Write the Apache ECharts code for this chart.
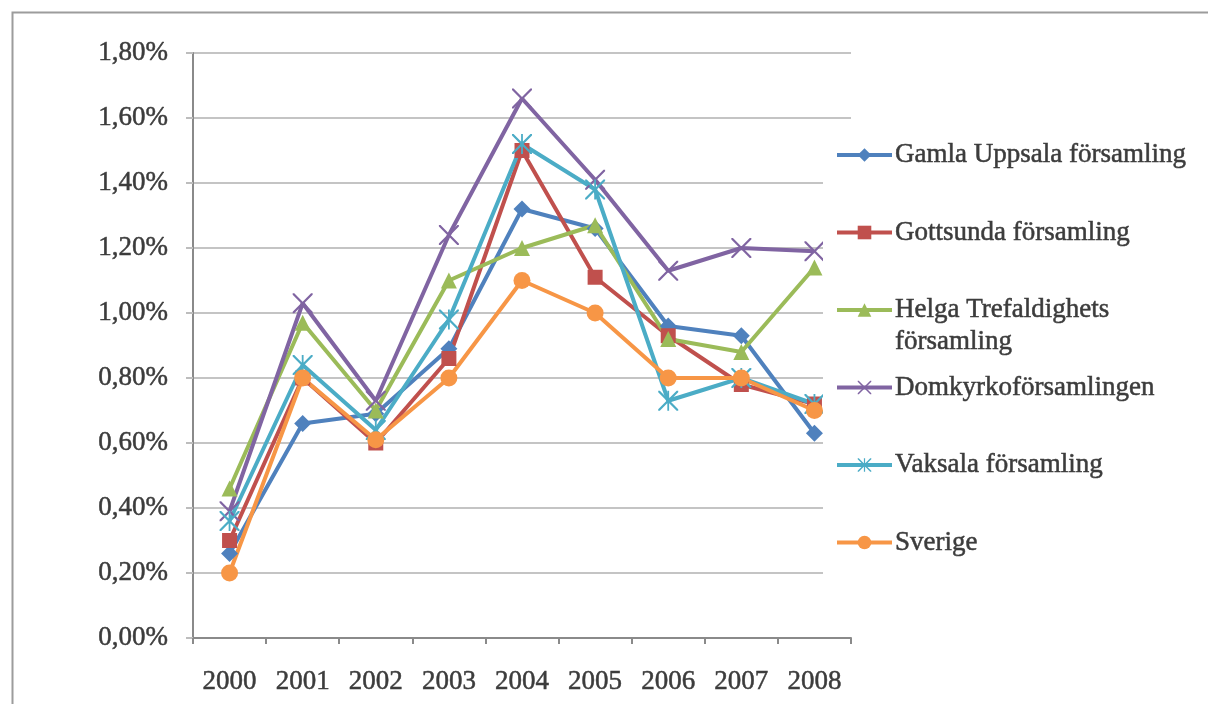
<!DOCTYPE html>
<html>
<head>
<meta charset="utf-8">
<script src="https://cdn.jsdelivr.net/npm/echarts@6/dist/echarts.min.js"></script>
<style>
	html, body { margin: 0; padding: 0; background: #fff; }
	#chart { width: 1208px; height: 704px; }
</style>
</head>
<body>
<div id="chart"></div>
<script>
	// years on the x axis
	var years = ['2000', '2001', '2002', '2003', '2004', '2005', '2006', '2007', '2008'];

	// percent values per parish
	var gamlaUppsala = [0.26, 0.66, 0.69, 0.89, 1.32, 1.26, 0.96, 0.93, 0.63];
	var gottsunda = [0.30, 0.80, 0.60, 0.86, 1.50, 1.11, 0.93, 0.78, 0.72];
	var helgaTrefaldighets = [0.46, 0.97, 0.70, 1.10, 1.20, 1.27, 0.92, 0.88, 1.14];
	var domkyrko = [0.39, 1.03, 0.73, 1.24, 1.66, 1.41, 1.13, 1.20, 1.19];
	var vaksala = [0.36, 0.84, 0.64, 0.98, 1.52, 1.38, 0.73, 0.80, 0.72];
	var sverige = [0.20, 0.80, 0.61, 0.80, 1.10, 1.00, 0.80, 0.80, 0.70];

	var names = [
		'Gamla Uppsala församling',
		'Gottsunda församling',
		'Helga Trefaldighets församling',
		'Domkyrkoförsamlingen',
		'Vaksala församling',
		'Sverige'
	];
	var values = [gamlaUppsala, gottsunda, helgaTrefaldighets, domkyrko, vaksala, sverige];
	var colors = ['#4F81BD', '#C0504D', '#9BBB59', '#8064A2', '#4BACC6', '#F79646'];

	// x and asterisk markers as filled outlines
	var xPath = 'M0,0 L1.6,0 L10,8.4 L18.4,0 L20,0 L20,1.6 L11.6,10 L20,18.4 L20,20 L18.4,20 L10,11.6 L1.6,20 L0,20 L0,18.4 L8.4,10 L0,1.6 Z';
	var starPath = xPath + ' M9.1,0 L10.9,0 L10.9,20 L9.1,20 Z';
	var symbols = ['diamond', 'rect', 'triangle', 'path://' + xPath, 'path://' + starPath, 'circle'];
	var sizes = [17, 15, 16, 20, 20, 17];

	var font = 'Liberation Serif';
	var textColor = '#3c3c3c';
	var textBase = {
		color: textColor,
		fontFamily: font,
		fontSize: 27,
		textBorderColor: textColor,
		textBorderWidth: 0.5
	};

	var series = [];
	for (var i = 0; i < names.length; i++) {
		series.push({
			name: names[i],
			type: 'line',
			data: values[i],
			symbol: symbols[i],
			symbolSize: sizes[i],
			symbolKeepAspect: true,
			showAllSymbol: true,
			lineStyle: { width: 4, color: colors[i] },
			itemStyle: { color: colors[i] },
			emphasis: { disabled: true },
			animation: false
		});
	}

	var chart = echarts.init(document.getElementById('chart'), null, { renderer: 'canvas' });
	chart.setOption({
		backgroundColor: '#fff',
		animation: false,
		color: colors,
		grid: {
			left: 193,
			top: 53,
			width: 658,
			height: 585
		},
		xAxis: {
			type: 'category',
			data: years,
			boundaryGap: true,
			axisLine: { lineStyle: { color: '#8a8a8a', width: 2 } },
			axisTick: { show: true, length: 6, lineStyle: { color: '#8a8a8a', width: 2 } },
			axisLabel: Object.assign({ margin: 30 }, textBase)
		},
		yAxis: {
			type: 'value',
			min: 0,
			max: 1.8,
			interval: 0.2,
			axisLine: { show: true, lineStyle: { color: '#8a8a8a', width: 2 } },
			axisTick: { show: true, length: 7, lineStyle: { color: '#bdbdbd', width: 2 } },
			splitLine: { lineStyle: { color: '#c4c4c4', width: 2 } },
			axisLabel: Object.assign({
				margin: 25,
				formatter: function (v) {
					return v.toFixed(2).replace('.', ',') + '%';
				}
			}, textBase)
		},
		legend: {
			orient: 'vertical',
			left: 835,
			top: 107,
			padding: 0,
			itemGap: -18.5,
			itemWidth: 55,
			itemHeight: 17,
			z: 10,
			selectedMode: false,
			lineStyle: { width: 4 },
			textStyle: Object.assign({ lineHeight: 32, padding: [0, 0, 0, -2] }, textBase),
			formatter: function (name) {
				if (name === names[2]) {
					return '\nHelga Trefaldighets\nförsamling';
				}
				return '\n' + name + '\n';
			},
			data: names
		},
		graphic: [
			{
				type: 'rect',
				left: 823,
				top: 125,
				z: 5,
				shape: { width: 385, height: 453 },
				style: { fill: '#fff' },
				silent: true
			},
			{
				type: 'rect',
				left: 10,
				top: 10,
				z: 6,
				shape: { width: 1220, height: 720 },
				style: { fill: 'none', stroke: '#9c9c9c', lineWidth: 2 },
				silent: true
			}
		],
		series: series
	});
</script>
</body>
</html>
